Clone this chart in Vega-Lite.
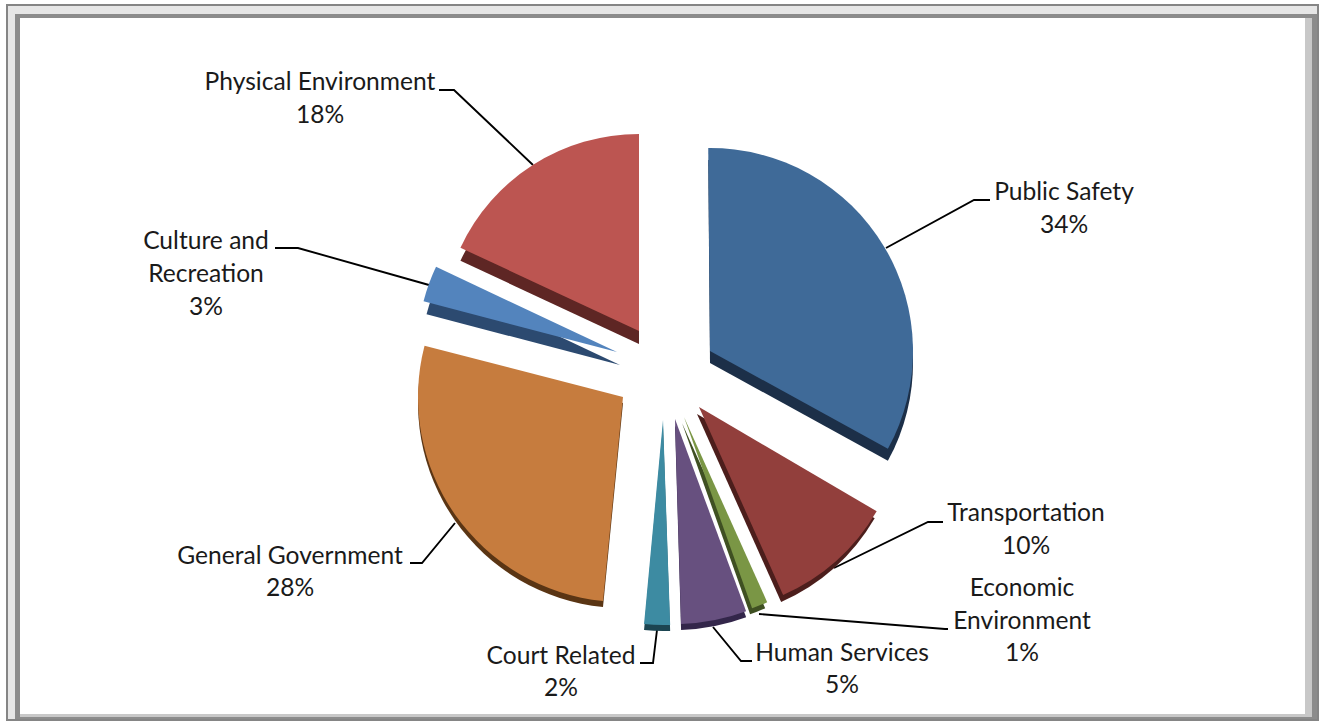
{
"$schema":"https://vega.github.io/schema/vega-lite/v6.json",
"width":1325,"height":724,"padding":0,
"autosize":{"type":"fit","contains":"padding"},
"background":"#ffffff",
"view":{"stroke":null},
"datasets":{
"slices":[
{"name":"Public Safety","pct":34,"cx":710,"cy":351,"r":203,"a0":-0.5,"a1":118.8,"bx":710,"by":363},
{"name":"Transportation","pct":10,"cx":699,"cy":407,"r":206,"a0":120.4,"a1":155.9,"bx":697,"by":414},
{"name":"Economic Environment","pct":1,"cx":684,"cy":417,"r":203,"a0":155.8,"a1":160.4,"bx":682,"by":423},
{"name":"Human Services","pct":5,"cx":675,"cy":419,"r":205,"a0":159.7,"a1":178.3,"bx":675,"by":425},
{"name":"Court Related","pct":2,"cx":663,"cy":420,"r":205,"a0":178,"a1":185.3,"bx":663,"by":426},
{"name":"General Government","pct":28,"cx":623,"cy":397,"r":205,"a0":185.6,"a1":284.5,"bx":623,"by":403},
{"name":"Culture and Recreation","pct":3,"cx":617,"cy":352,"r":200,"a0":284.7,"a1":295.2,"bx":620,"by":365},
{"name":"Physical Environment","pct":18,"cx":639,"cy":331,"r":197,"a0":295,"a1":360,"bx":639,"by":344}
],
"labels":[
{"t":"Physical Environment","x":320,"y":83},{"t":"18%","x":320,"y":116},
{"t":"Public Safety","x":1064,"y":193},{"t":"34%","x":1064,"y":226},
{"t":"Culture and","x":206,"y":242},{"t":"Recreation","x":206,"y":275},{"t":"3%","x":206,"y":308},
{"t":"Transportation","x":1026,"y":514},{"t":"10%","x":1026,"y":547},
{"t":"Economic","x":1022,"y":589},{"t":"Environment","x":1022,"y":622},{"t":"1%","x":1022,"y":654},
{"t":"General Government","x":290,"y":557},{"t":"28%","x":290,"y":589},
{"t":"Human Services","x":842,"y":654},{"t":"5%","x":842,"y":686},
{"t":"Court Related","x":561,"y":657},{"t":"2%","x":561,"y":689}
],
"leaders":[
{"k":"a","i":0,"x":439,"y":90},{"k":"a","i":1,"x":454,"y":90},{"k":"a","i":2,"x":533,"y":165},
{"k":"b","i":0,"x":886,"y":248},{"k":"b","i":1,"x":974,"y":200},{"k":"b","i":2,"x":990,"y":200},
{"k":"c","i":0,"x":275,"y":248},{"k":"c","i":1,"x":298,"y":248},{"k":"c","i":2,"x":429,"y":285},
{"k":"d","i":0,"x":834,"y":568},{"k":"d","i":1,"x":928,"y":522},{"k":"d","i":2,"x":943,"y":522},
{"k":"e","i":0,"x":759,"y":614},{"k":"e","i":1,"x":945,"y":629},{"k":"e","i":2,"x":948,"y":629},
{"k":"f","i":0,"x":410,"y":563},{"k":"f","i":1,"x":422,"y":563},{"k":"f","i":2,"x":455,"y":523},
{"k":"g","i":0,"x":713,"y":627},{"k":"g","i":1,"x":741,"y":661},{"k":"g","i":2,"x":752,"y":661},
{"k":"h","i":0,"x":657,"y":630},{"k":"h","i":1,"x":653,"y":663},{"k":"h","i":2,"x":640,"y":663}
]
},
"encoding":{
"x":{"type":"quantitative","scale":{"domain":[0,1325],"nice":false,"zero":false},"axis":null},
"y":{"type":"quantitative","scale":{"domain":[724,0],"nice":false,"zero":false},"axis":null}
},
"layer":[
{"data":{"values":[{"x":7,"x2":1318,"y":5,"y2":720}]},
 "mark":{"type":"rect","fill":"#e6e6e6","stroke":"#858585","strokeWidth":2},
 "encoding":{"x":{"field":"x","type":"quantitative"},"x2":{"field":"x2"},"y":{"field":"y","type":"quantitative"},"y2":{"field":"y2"}}},
{"data":{"values":[{"x":15,"x2":1317,"y":14,"y2":719}]},
 "mark":{"type":"rect","fill":"#8c8c8c"},
 "encoding":{"x":{"field":"x","type":"quantitative"},"x2":{"field":"x2"},"y":{"field":"y","type":"quantitative"},"y2":{"field":"y2"}}},
{"data":{"values":[{"x":20,"x2":1312,"y":18,"y2":717}]},
 "mark":{"type":"rect","fill":"#c8c8c8"},
 "encoding":{"x":{"field":"x","type":"quantitative"},"x2":{"field":"x2"},"y":{"field":"y","type":"quantitative"},"y2":{"field":"y2"}}},
{"data":{"values":[{"x":20,"x2":1305,"y":18,"y2":714}]},
 "mark":{"type":"rect","fill":"#ffffff"},
 "encoding":{"x":{"field":"x","type":"quantitative"},"x2":{"field":"x2"},"y":{"field":"y","type":"quantitative"},"y2":{"field":"y2"}}},
{"data":{"name":"leaders"},
 "mark":{"type":"line","color":"#000000","strokeWidth":1.9},
 "encoding":{"x":{"field":"x","type":"quantitative"},"y":{"field":"y","type":"quantitative"},"detail":{"field":"k"},"order":{"field":"i"}}},
{"data":{"name":"slices"},
 "mark":{"type":"arc"},
 "encoding":{"x":{"field":"bx","type":"quantitative"},"y":{"field":"by","type":"quantitative"},
  "theta":{"field":"a0","type":"quantitative","stack":null,"scale":{"domain":[0,360]}},"theta2":{"field":"a1"},
  "radius":{"field":"r","type":"quantitative","scale":null},
  "color":{"field":"name","type":"nominal","legend":null,"scale":{"domain":["Public Safety","Transportation","Economic Environment","Human Services","Court Related","General Government","Culture and Recreation","Physical Environment"],"range":["#1c2f48","#4c1e1c","#3f5022","#33264a","#1c4552","#5a3514","#2c4a70","#5e2624"]}}}},
{"data":{"name":"slices"},
 "mark":{"type":"arc"},
 "encoding":{"x":{"field":"cx","type":"quantitative"},"y":{"field":"cy","type":"quantitative"},
  "theta":{"field":"a0","type":"quantitative","stack":null,"scale":{"domain":[0,360]}},"theta2":{"field":"a1"},
  "radius":{"field":"r","type":"quantitative","scale":null},
  "color":{"field":"name","type":"nominal","legend":null,"scale":{"domain":["Public Safety","Transportation","Economic Environment","Human Services","Court Related","General Government","Culture and Recreation","Physical Environment"],"range":["#3f6a98","#923f3c","#7a9645","#67507f","#3d8ba2","#c67c3e","#5384bd","#bc5551"]}}}},
{"data":{"name":"labels"},
 "mark":{"type":"text","font":"Lato","fontSize":24.6,"color":"#1a1a1a","align":"center","baseline":"middle"},
 "encoding":{"x":{"field":"x","type":"quantitative"},"y":{"field":"y","type":"quantitative"},"text":{"field":"t"}}}
],
"resolve":{"scale":{"color":"independent"}}
}
